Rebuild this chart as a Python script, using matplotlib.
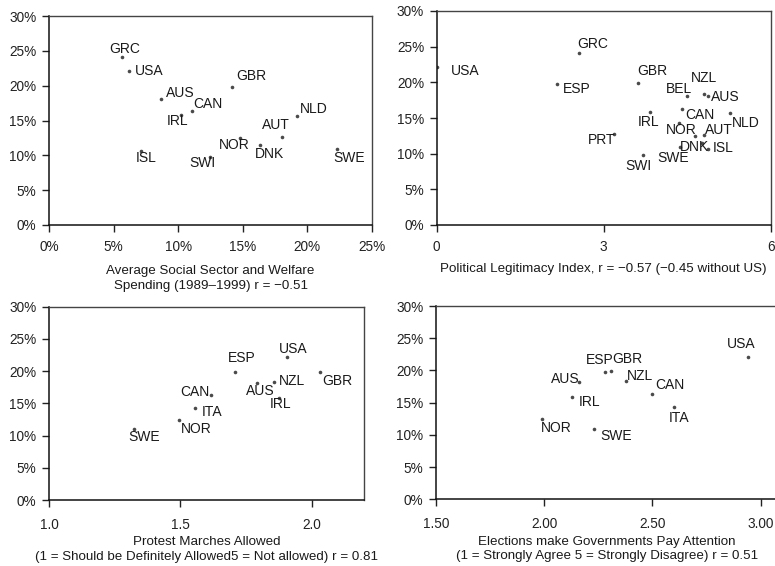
import matplotlib.pyplot as plt
from matplotlib.ticker import FuncFormatter

plt.rcParams['font.family'] = ['Liberation Sans', 'DejaVu Sans']

# share of the population, by country (y axis on every panel)
codes = ['USA', 'GRC', 'GBR', 'ESP', 'AUS', 'NZL', 'BEL', 'CAN', 'IRL',
         'NLD', 'ITA', 'AUT', 'NOR', 'PRT', 'DNK', 'SWE', 'ISL', 'SWI']
share = [22.15, 24.05, 19.85, 19.8, 18.15, 18.3, 18.1, 16.3, 15.8,
         15.7, 14.35, 12.65, 12.45, 12.8, 11.5, 10.95, 10.6, 9.8]
y_of = dict(zip(codes, share))

welfare_codes = ['GRC', 'USA', 'AUS', 'IRL', 'CAN', 'GBR', 'NLD', 'AUT',
                 'NOR', 'DNK', 'SWE', 'ISL', 'SWI']
welfare = [5.63, 6.17, 8.69, 10.24, 11.07, 14.19, 19.19, 18.0,
           14.8, 16.33, 22.27, 7.15, 12.44]

legit_codes = ['USA', 'GRC', 'ESP', 'GBR', 'BEL', 'NZL', 'AUS', 'CAN', 'IRL',
               'NLD', 'ITA', 'NOR', 'AUT', 'PRT', 'DNK', 'SWE', 'ISL', 'SWI']
legit = [0.01, 2.556, 2.17, 3.62, 4.49, 4.81, 4.88, 4.41, 3.84,
         5.26, 4.36, 4.64, 4.80, 3.185, 4.76, 4.37, 4.88, 3.70]

protest_codes = ['SWE', 'NOR', 'ITA', 'CAN', 'ESP', 'AUS', 'NZL', 'IRL', 'USA', 'GBR']
protest = [1.323, 1.495, 1.558, 1.618, 1.709, 1.794, 1.859, 1.877, 1.905, 2.031]

elect_codes = ['NOR', 'IRL', 'AUS', 'SWE', 'ESP', 'GBR', 'NZL', 'CAN', 'ITA', 'USA']
elect = [1.99, 2.13, 2.16, 2.23, 2.28, 2.31, 2.378, 2.497, 2.60, 2.94]

# label offsets in pixels (centre of text relative to the dot)
off1 = {'GRC': (3, 8), 'USA': (20, 0), 'AUS': (19, 6), 'IRL': (-4, -6),
        'CAN': (16, 7), 'GBR': (19, 11), 'NLD': (17, 7), 'AUT': (-6, 12),
        'NOR': (-6, -7), 'DNK': (10, -9), 'SWE': (12, -9), 'ISL': (5, -7),
        'SWI': (-7, -6)}
off2 = {'USA': (28, -4), 'GRC': (14, 9), 'ESP': (19, -5), 'GBR': (14, 12),
        'BEL': (-8, 7), 'NZL': (0, 16), 'AUS': (17, -1), 'CAN': (18, -6),
        'IRL': (-2, -10), 'NLD': (16, -10), 'NOR': (-14, 6), 'AUT': (15, 5),
        'PRT': (-12, -6), 'SWI': (-4, -11), 'SWE': (-7, -11), 'DNK': (-7, -4),
        'ISL': (15, 1)}
off3 = {'SWE': (10, -8), 'NOR': (17, -9), 'ITA': (17, -4), 'CAN': (-16, 3),
        'ESP': (7, 14), 'AUS': (3, -8), 'NZL': (18, 1), 'IRL': (1, -6),
        'USA': (7, 8), 'GBR': (18, -9)}
off4 = {'NOR': (14, -9), 'IRL': (17, -5), 'AUS': (-14, 3), 'SWE': (22, -7),
        'ESP': (-5, 12), 'GBR': (16, 12), 'NZL': (14, 5), 'CAN': (18, 9),
        'ITA': (5, -11), 'USA': (-6, 13)}

pct = FuncFormatter(lambda v, p: '%d%%' % round(v))

fig = plt.figure(figsize=(7.75, 5.66), dpi=100)


def panel(rect, names, xs, offsets, xlim, xticks, xfmt, xlabel,
          xpad=6, labelpad=4, show_right=True):
    ax = fig.add_axes(rect)
    ys = [y_of[c] for c in names]
    ax.plot(xs, ys, 'o', ms=2.6, color='#4a4a4a', mec='none')
    for c, x, y in zip(names, xs, ys):
        if c in offsets:
            ax.annotate(c, (x, y), xytext=offsets[c], textcoords='offset pixels',
                        ha='center', va='center', fontsize=10, color='#1a1a1a')
    ax.set_xlim(*xlim)
    ax.set_ylim(0, 30)
    ax.set_xticks(xticks)
    ax.set_yticks(range(0, 31, 5))
    ax.yaxis.set_major_formatter(pct)
    ax.xaxis.set_major_formatter(xfmt)
    ax.tick_params(direction='out', length=5, width=1, labelsize=9.8,
                   colors='#222222', pad=4)
    ax.tick_params(axis='x', pad=xpad)
    for s in ('left', 'bottom'):
        ax.spines[s].set_color('#111111')
        ax.spines[s].set_linewidth(1.1)
    for s in ('top', 'right'):
        ax.spines[s].set_color('#444444')
        ax.spines[s].set_linewidth(1.0)
    ax.spines['right'].set_visible(show_right)
    ax.set_xlabel(xlabel, fontsize=9.6, color='#1a1a1a', labelpad=labelpad,
                  linespacing=1.3)
    return ax


panel([49 / 775, 341 / 566, 323 / 775, 209 / 566], welfare_codes, welfare, off1,
      (0, 25), range(0, 26, 5), pct,
      'Average Social Sector and Welfare\nSpending (1989\u20131999) r = \u22120.51',
      labelpad=8)

panel([436.7 / 775, 341 / 566, 334 / 775, 214 / 566], legit_codes, legit, off2,
      (0, 6), [0, 3, 6], FuncFormatter(lambda v, p: '%d' % v),
      'Political Legitimacy Index, r = \u22120.57 (\u22120.45 without US)',
      labelpad=6)

panel([49 / 775, 66 / 566, 315 / 775, 193.3 / 566], protest_codes, protest, off3,
      (1.0, 2.2), [1.0, 1.5, 2.0], FuncFormatter(lambda v, p: '%.1f' % v),
      'Protest Marches Allowed\n(1 = Should be Definitely Allowed5 = Not allowed) r = 0.81',
      xpad=8, labelpad=3)

panel([436 / 775, 66.7 / 566, 341.9 / 775, 193.3 / 566], elect_codes, elect, off4,
      (1.5, 3.08), [1.5, 2.0, 2.5, 3.0], FuncFormatter(lambda v, p: '%.2f' % v),
      'Elections make Governments Pay Attention\n(1 = Strongly Agree 5 = Strongly Disagree) r = 0.51',
      xpad=8, labelpad=3, show_right=False)

fig.savefig('out.png', dpi=100)
